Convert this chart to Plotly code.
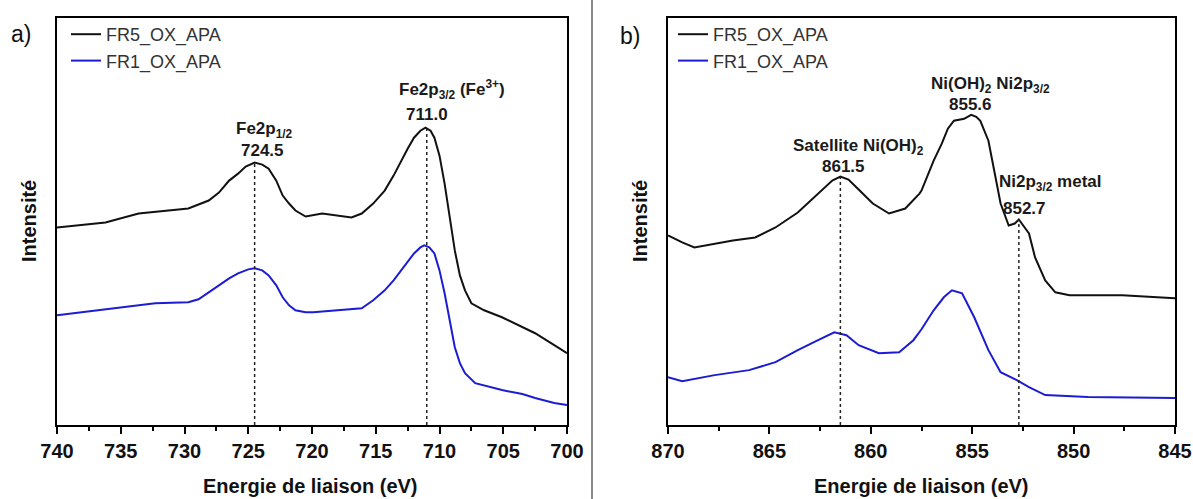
import numpy as np
import plotly.graph_objects as go

W, H = 1193, 499

# ---------------- data: Fe 2p (panel a) ----------------
fe_E_fr5 = [740, 736.2, 733.6, 729.7, 728.1, 727.3, 726.5, 725.8, 725.2, 724.5, 723.9, 723.4,
            722.8, 722.3, 721.8, 721.3, 720.5, 719.2, 716.9, 716.1, 715.2, 714.3, 713.6, 713.0,
            712.5, 712.0, 711.5, 711.1, 710.7, 710.4, 710.0, 709.6, 709.2, 708.8, 708.4, 708.0,
            707.5, 706.5, 705.1, 703.5, 702.5, 701.0, 700.0]
fe_I_fr5 = [198, 203, 212, 217, 225, 233, 245, 252, 259, 263, 261, 257,
            245, 230, 222, 215, 209, 212, 208, 212, 222, 235, 250, 265,
            277, 288, 295, 298, 295, 288, 270, 242, 207, 175, 150, 135,
            122, 115, 108, 98, 92, 80, 72]

fe_E_fr1 = [740, 737.5, 734.9, 732.3, 729.7, 728.9, 728.1, 727.3, 726.5, 725.8, 725.0, 724.5,
            723.9, 723.4, 722.8, 722.3, 721.8, 721.3, 720.5, 719.9, 718.0, 716.1, 715.2, 714.3,
            713.6, 713.0, 712.5, 712.0, 711.5, 711.2, 710.8, 710.4, 710.0, 709.6, 709.2, 708.8,
            708.4, 708.0, 707.2, 706.0, 705.1, 703.5, 702.5, 701.0, 700.0]
fe_I_fr1 = [110, 114, 118, 122, 123, 126, 133, 140, 147, 152, 156, 157,
            155, 150, 140, 128, 120, 115, 113, 113, 115, 117, 125, 135,
            145, 155, 163, 172, 178, 180, 178, 172, 155, 132, 105, 78,
            62, 52, 42, 38, 35, 31, 27, 22, 20]

fe_peaks = [724.5, 711.0]

# ---------------- data: Ni 2p (panel b) ----------------
ni_E_fr5 = [870, 869.3, 868.7, 867.7, 866.8, 865.7, 864.7, 863.6, 862.6, 861.9, 861.5, 861.1,
            860.7, 859.9, 859.1, 858.3, 857.6, 857.5, 856.9, 856.5, 856.2, 855.9, 855.4, 855.05,
            854.8, 854.6, 854.2, 853.9, 853.6, 853.2, 852.9, 852.7, 852.2, 851.9, 851.4, 850.9,
            850.2, 847.6, 845.0]
ni_I_fr5 = [190, 183, 178, 182, 185, 188, 198, 213, 232, 245, 249, 246,
            238, 222, 212, 217, 232, 235, 265, 282, 297, 305, 307, 311,
            309, 305, 285, 255, 222, 200, 202, 206, 192, 168, 145, 133,
            130, 130, 127]

ni_E_fr1 = [870, 869.3, 867.7, 866.0, 864.7, 863.6, 862.6, 861.8, 861.2, 860.6, 859.6, 858.6,
            857.9, 857.5, 856.9, 856.4, 856.0, 855.5, 854.9, 854.2, 853.6, 852.8, 852.2, 851.4,
            849.3, 845.0]
ni_I_fr1 = [48, 44, 50, 55, 63, 75, 85, 93, 90, 80, 72, 73,
            85, 96, 115, 128, 135, 132, 108, 75, 53, 45, 38, 30,
            28, 27]

ni_peaks = [861.5, 852.7]

series_names = ["FR5_OX_APA", "FR1_OX_APA"]
fe_ticks = [740, 735, 730, 725, 720, 715, 710, 705, 700]
ni_ticks = [870, 865, 860, 855, 850, 845]
ni_main_label = 855.6

# ---------------- layout helpers ----------------
def fx(x):
    return x / W

def fy(y):
    return 1 - y / H

FONT = "Arial, 'Liberation Sans', sans-serif"
BLACK = "#111111"
BLUE = "#1c1cd2"

fig = go.Figure()

fig.add_trace(go.Scatter(x=fe_E_fr5, y=fe_I_fr5, mode="lines", name=series_names[0],
                         line=dict(color=BLACK, width=2), xaxis="x", yaxis="y", legend="legend"))
fig.add_trace(go.Scatter(x=fe_E_fr1, y=fe_I_fr1, mode="lines", name=series_names[1],
                         line=dict(color=BLUE, width=2), xaxis="x", yaxis="y", legend="legend"))
fig.add_trace(go.Scatter(x=ni_E_fr5, y=ni_I_fr5, mode="lines", name=series_names[0],
                         line=dict(color=BLACK, width=2), xaxis="x2", yaxis="y2", legend="legend2"))
fig.add_trace(go.Scatter(x=ni_E_fr1, y=ni_I_fr1, mode="lines", name=series_names[1],
                         line=dict(color=BLUE, width=2), xaxis="x2", yaxis="y2", legend="legend2"))

# dotted peak markers, from the FR5 curve down to the axis
shapes = []
for E in fe_peaks:
    top = float(np.interp(E, fe_E_fr5[::-1], fe_I_fr5[::-1]))
    shapes.append(dict(type="line", xref="x", yref="y", x0=E, x1=E, y0=0, y1=top,
                       line=dict(color="#222222", width=1.5, dash="dot")))
for E in ni_peaks:
    top = float(np.interp(E, ni_E_fr5[::-1], ni_I_fr5[::-1]))
    shapes.append(dict(type="line", xref="x2", yref="y2", x0=E, x1=E, y0=0, y1=top,
                       line=dict(color="#222222", width=1.5, dash="dot")))
# grey separator between the panels
shapes.append(dict(type="line", xref="paper", yref="paper", x0=fx(592), x1=fx(592), y0=0, y1=1,
                   line=dict(color="#8a8a8a", width=2)))

ann_font = dict(family=FONT, size=17, color="#1a1a1a")
annotations = []

def add_text(text, x, y, font, **kw):
    annotations.append(dict(text=text, x=fx(x), y=fy(y), xref="paper", yref="paper",
                            showarrow=False, font=font, xanchor=kw.get("xanchor", "center"),
                            yanchor="middle", textangle=kw.get("textangle", 0)))

bold = lambda s: "<b>" + s + "</b>"

# panel a labels
add_text(bold("Fe2p<sub>1/2</sub>"), 264, 130, ann_font)
add_text(bold(f"{fe_peaks[0]:.1f}"), 262, 151, ann_font)
add_text(bold("Fe2p<sub>3/2</sub> (Fe<sup>3+</sup>)"), 452, 90, ann_font)
add_text(bold(f"{fe_peaks[1]:.1f}"), 427, 114, ann_font)
# panel b labels
add_text(bold("Satellite Ni(OH)<sub>2</sub>"), 858, 147, ann_font)
add_text(bold(f"{ni_peaks[0]:.1f}"), 843, 166, ann_font)
add_text(bold("Ni(OH)<sub>2</sub> Ni2p<sub>3/2</sub>"), 990, 85, ann_font)
add_text(bold(f"{ni_main_label:.1f}"), 970, 104, ann_font)
add_text(bold("Ni2p<sub>3/2</sub> metal"), 1050, 183, ann_font)
add_text(bold(f"{ni_peaks[1]:.1f}"), 1024, 208, ann_font)

# panel letters
letter_font = dict(family=FONT, size=23, color="#111111")
add_text("a)", 21, 34, letter_font)
add_text("b)", 630, 36, letter_font)

# axis titles
title_font = dict(family=FONT, size=20, color="#111111")
add_text(bold("Energie de liaison (eV)"), 310, 486, title_font)
add_text(bold("Energie de liaison (eV)"), 921, 486, title_font)
add_text(bold("Intensité"), 29, 221, title_font, textangle=-90)
add_text(bold("Intensité"), 640, 221, title_font, textangle=-90)

xaxis_common = dict(showgrid=False, zeroline=False, showline=True, linecolor="black", linewidth=2,
                    mirror=True, ticks="outside", ticklen=7, tickwidth=2, tickcolor="black",
                    tickfont=dict(family=FONT, size=20, color="#111111"),
                    automargin=False,
                    minor=dict(ticks="outside", ticklen=4, tickwidth=2, tickcolor="black", dtick=2.5,
                               showgrid=False))
yaxis_common = dict(showgrid=False, zeroline=False, showline=True, linecolor="black", linewidth=2,
                    mirror=True, ticks="", showticklabels=False, range=[0, 408], automargin=False)

fig.update_layout(
    width=W, height=H,
    margin=dict(l=0, r=0, t=0, b=0),
    paper_bgcolor="white", plot_bgcolor="white",
    xaxis=dict(xaxis_common, domain=[fx(57), fx(567)], range=[740, 700],
               tickvals=fe_ticks, ticktext=[bold(str(t)) for t in fe_ticks], anchor="y"),
    yaxis=dict(yaxis_common, domain=[fy(425), fy(18)], anchor="x"),
    xaxis2=dict(xaxis_common, domain=[fx(668), fx(1175)], range=[870, 845],
                tickvals=ni_ticks, ticktext=[bold(str(t)) for t in ni_ticks], anchor="y2"),
    yaxis2=dict(yaxis_common, domain=[fy(425), fy(18)], anchor="x2"),
    legend=dict(x=fx(66), y=fy(16), xanchor="left", yanchor="top", bgcolor="rgba(0,0,0,0)",
                font=dict(family=FONT, size=18, color="#333333"), tracegroupgap=0, itemwidth=30),
    legend2=dict(x=fx(673), y=fy(16), xanchor="left", yanchor="top", bgcolor="rgba(0,0,0,0)",
                 font=dict(family=FONT, size=18, color="#333333"), tracegroupgap=0, itemwidth=30),
    showlegend=True,
    shapes=shapes,
    annotations=annotations,
)

fig.write_html(
    "out.html",
    config={"displayModeBar": False},
    post_script="document.body.style.margin='0px';document.body.style.overflow='hidden';",
)
